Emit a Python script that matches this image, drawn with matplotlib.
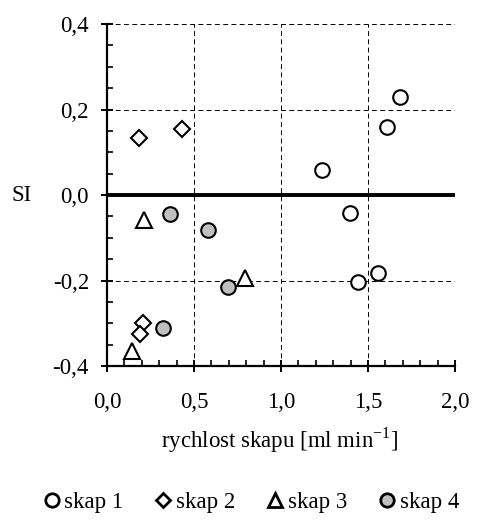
import matplotlib.pyplot as plt
from matplotlib.ticker import MultipleLocator, FuncFormatter

plt.rcParams['font.family'] = ['Liberation Serif', 'DejaVu Serif']
plt.rcParams['mathtext.fontset'] = 'custom'
plt.rcParams['mathtext.rm'] = 'Liberation Serif'

# data
skap1_x = [1.234, 1.397, 1.445, 1.560, 1.607, 1.684]
skap1_y = [0.058, -0.043, -0.203, -0.183, 0.160, 0.230]
skap2_x = [0.186, 0.429, 0.205, 0.190]
skap2_y = [0.134, 0.154, -0.299, -0.325]
skap3_x = [0.215, 0.793, 0.142]
skap3_y = [-0.058, -0.195, -0.366]
skap4_x = [0.362, 0.579, 0.697, 0.320]
skap4_y = [-0.044, -0.083, -0.216, -0.312]
labels = ['skap 1', 'skap 2', 'skap 3', 'skap 4']

fs = 16.5

fig = plt.figure(figsize=(4.79, 5.29), dpi=100)
ax = fig.add_axes([0.2234, 0.3081, 0.7265, 0.6465])

ax.set_xlim(0, 2.0)
ax.set_ylim(-0.4, 0.4)

ax.grid(True, which='major', color='black', linestyle=(0, (5, 3.5)), linewidth=0.7)
ax.axhline(0, color='black', linewidth=2.8, zorder=2)

ms = 10.5
ew = 1.5
h1, = ax.plot(skap1_x, skap1_y, 'o', ms=ms, mfc='white', mec='black', mew=ew, zorder=3)
h2, = ax.plot(skap2_x, skap2_y, 'D', ms=ms * 0.75, mfc='white', mec='black', mew=ew, zorder=3)
h3, = ax.plot(skap3_x, skap3_y, '^', ms=ms * 1.05, mfc='white', mec='black', mew=ew, zorder=3)
h4, = ax.plot(skap4_x, skap4_y, 'o', ms=ms, mfc='#c0c0c0', mec='black', mew=ew, zorder=3)

for s in ['top', 'right']:
    ax.spines[s].set_visible(False)
for s in ['left', 'bottom']:
    ax.spines[s].set_linewidth(1.6)

ax.xaxis.set_major_locator(MultipleLocator(0.5))
ax.xaxis.set_minor_locator(MultipleLocator(0.1))
ax.yaxis.set_major_locator(MultipleLocator(0.2))
ax.yaxis.set_minor_locator(MultipleLocator(0.05))
fmt = FuncFormatter(lambda v, p: f'{v:.1f}'.replace('.', ',').replace('-0,0', '0,0'))
ax.xaxis.set_major_formatter(fmt)
ax.yaxis.set_major_formatter(fmt)

ax.tick_params(which='major', direction='inout', length=8, width=1.4, labelsize=fs)
ax.tick_params(which='minor', direction='in', length=4, width=1.2)
ax.tick_params(axis='x', which='major', pad=15)
ax.tick_params(axis='y', which='major', pad=9)

ax.set_xlabel('rychlost skapu [ml min$^{-1}$]', fontsize=fs)
ax.xaxis.set_label_coords(0.497, -0.175)
ax.set_ylabel('SI', rotation=0, fontsize=fs, va='center')
ax.yaxis.set_label_coords(-0.245, 0.5)

leg = fig.legend([h1, h2, h3, h4], labels, loc='center', bbox_to_anchor=(0.52, 0.05),
                 ncol=4, frameon=False, fontsize=fs, markerscale=0.92,
                 handletextpad=0.0, columnspacing=1.2, handlelength=1.1)
for h in leg.legend_handles:
    h.set_markeredgewidth(2.0)

fig.savefig('out.png', dpi=100)
